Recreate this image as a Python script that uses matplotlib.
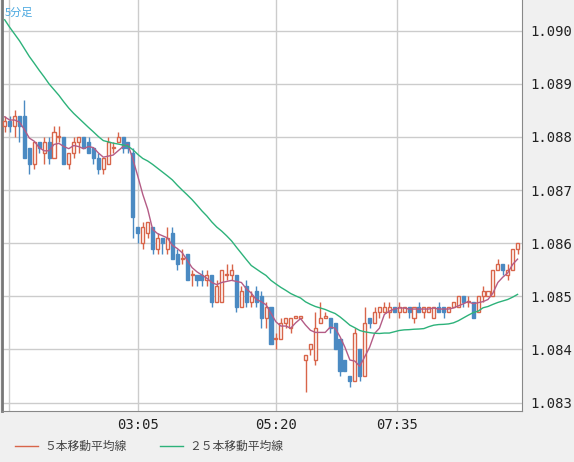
import numpy as np
import pandas as pd
import matplotlib
matplotlib.use('Agg')
from matplotlib import pyplot as plt

# 5-minute candles: open, high, low, close
opens = [1.0882,1.0883,1.0882,1.0884,1.0884,1.0878,1.0875,1.0879,1.0877,1.0879,
         1.0876,1.0880,1.0880,1.0875,1.0877,1.0879,1.0880,1.0879,1.0878,1.0876,
         1.0874,1.0875,1.0878,1.0879,1.0880,1.0879,1.0877,1.0863,1.0860,1.0862,
         1.0863,1.0859,1.0861,1.0859,1.0862,1.0858,1.0857,1.0858,1.0854,1.0854,
         1.0854,1.0853,1.0854,1.0849,1.0849,1.0854,1.0854,1.0854,1.0848,1.0852,
         1.0849,1.0851,1.0850,1.0846,1.0848,1.0842,1.0842,1.0845,1.0844,1.0846,
         1.0846,1.0838,1.0840,1.0838,1.0845,1.0846,1.0846,1.0845,1.0842,1.0838,
         1.0835,1.0834,1.0840,1.0835,1.0846,1.0845,1.0847,1.0847,1.0847,1.0848,
         1.0847,1.0847,1.0848,1.0846,1.0848,1.0847,1.0847,1.0846,1.0848,1.0848,
         1.0847,1.0848,1.0848,1.0850,1.0849,1.0849,1.0847,1.0850,1.0850,1.0850,
         1.0855,1.0856,1.0854,1.0855,1.0859]
highs = [1.0884,1.0884,1.0885,1.0884,1.0887,1.0878,1.0879,1.0879,1.0880,1.0880,
         1.0882,1.0882,1.0880,1.0877,1.0880,1.0880,1.0880,1.0880,1.0878,1.0877,
         1.0876,1.0880,1.0879,1.0881,1.0880,1.0879,1.0878,1.0863,1.0864,1.0864,
         1.0863,1.0862,1.0861,1.0863,1.0863,1.0859,1.0859,1.0858,1.0855,1.0854,
         1.0855,1.0855,1.0854,1.0853,1.0855,1.0856,1.0856,1.0854,1.0852,1.0853,
         1.0851,1.0852,1.0851,1.0849,1.0848,1.0843,1.0846,1.0846,1.0846,1.0846,
         1.0846,1.0839,1.0841,1.0847,1.0849,1.0847,1.0846,1.0845,1.0842,1.0838,
         1.0835,1.0844,1.0840,1.0848,1.0846,1.0848,1.0848,1.0849,1.0849,1.0848,
         1.0849,1.0848,1.0848,1.0848,1.0849,1.0848,1.0848,1.0848,1.0849,1.0848,
         1.0848,1.0849,1.0850,1.0850,1.0850,1.0849,1.0850,1.0852,1.0851,1.0855,
         1.0857,1.0856,1.0856,1.0859,1.0860]
lows = [1.0881,1.0881,1.0880,1.0879,1.0876,1.0873,1.0874,1.0877,1.0875,1.0875,
        1.0876,1.0879,1.0875,1.0874,1.0876,1.0877,1.0878,1.0877,1.0875,1.0873,
        1.0873,1.0875,1.0877,1.0879,1.0877,1.0877,1.0861,1.0860,1.0859,1.0861,
        1.0858,1.0858,1.0858,1.0858,1.0857,1.0855,1.0856,1.0853,1.0852,1.0852,
        1.0852,1.0852,1.0848,1.0849,1.0849,1.0853,1.0853,1.0847,1.0848,1.0848,
        1.0848,1.0848,1.0844,1.0844,1.0841,1.0840,1.0842,1.0844,1.0843,1.0846,
        1.0846,1.0832,1.0839,1.0837,1.0845,1.0846,1.0843,1.0840,1.0835,1.0836,
        1.0833,1.0834,1.0834,1.0835,1.0844,1.0845,1.0846,1.0847,1.0846,1.0847,
        1.0846,1.0847,1.0846,1.0845,1.0847,1.0846,1.0847,1.0846,1.0847,1.0846,
        1.0847,1.0848,1.0848,1.0848,1.0848,1.0846,1.0847,1.0849,1.0850,1.0850,
        1.0855,1.0854,1.0853,1.0855,1.0858]
closes = [1.0883,1.0882,1.0884,1.0882,1.0876,1.0875,1.0879,1.0878,1.0879,1.0876,
          1.0881,1.0880,1.0875,1.0877,1.0879,1.0880,1.0878,1.0877,1.0876,1.0874,
          1.0876,1.0879,1.0878,1.0880,1.0878,1.0878,1.0865,1.0862,1.0863,1.0864,
          1.0859,1.0861,1.0860,1.0861,1.0857,1.0856,1.0857,1.0853,1.0854,1.0853,
          1.0853,1.0854,1.0849,1.0852,1.0855,1.0854,1.0855,1.0848,1.0851,1.0849,
          1.0850,1.0849,1.0846,1.0848,1.0841,1.0842,1.0845,1.0846,1.0846,1.0846,
          1.0846,1.0839,1.0841,1.0844,1.0846,1.0846,1.0844,1.0840,1.0836,1.0836,
          1.0834,1.0843,1.0835,1.0845,1.0845,1.0847,1.0848,1.0848,1.0848,1.0847,
          1.0848,1.0848,1.0847,1.0848,1.0847,1.0848,1.0848,1.0848,1.0847,1.0847,
          1.0848,1.0849,1.0850,1.0849,1.0849,1.0846,1.0850,1.0851,1.0851,1.0855,
          1.0856,1.0855,1.0855,1.0859,1.0860]
# closes before the visible window (needed for the moving averages)
prior_closes = [1.0917,1.0916,1.0914,1.0913,1.0912,1.0911,1.0911,1.0910,1.0909,1.0908,
                1.0907,1.0906,1.0906,1.0904,1.0902,1.0900,1.0899,1.0897,1.0896,1.0895,
                1.0885,1.0884,1.0884,1.0883]
tick_pos = [27, 55, 79.5]
tick_labels = ['03:05', '05:20', '07:35']

RED = '#d8654a'
BLUE = '#4b8ac2'
MA5_C = '#b45c86'
MA25_C = '#2db27a'
JP = ['Noto Sans CJK JP', 'DejaVu Sans']

allc = pd.Series(prior_closes + closes)
ma5 = allc.rolling(5).mean().values[len(prior_closes):]
ma25 = allc.rolling(25).mean().values[len(prior_closes):]

fig = plt.figure(figsize=(5.74, 4.62), dpi=100, facecolor='#f0f0f0')
ax = fig.add_axes([0.003, 1 - 411/462, 522/574 - 0.003, 411/462])
ax.set_facecolor('white')

x = np.arange(len(closes))
for i in x:
    o, h, l, c = opens[i], highs[i], lows[i], closes[i]
    up = c >= o
    col = RED if up else BLUE
    bot, top = min(o, c), max(o, c)
    ax.vlines(i, l, bot, color=col, lw=1, zorder=2)
    ax.vlines(i, top, h, color=col, lw=1, zorder=2)
    hgt = max(top - bot, 0.00002)
    ax.bar(i, hgt, bottom=bot, width=0.62,
           facecolor='white' if up else BLUE, edgecolor=col, lw=1, zorder=3)

ax.plot(x, ma5, color=MA5_C, lw=1, zorder=4)
ax.plot(x, ma25, color=MA25_C, lw=1, zorder=4)

ax.set_xlim(-0.6, 104.9)
ax.set_ylim(1.08284, 1.09058)
ax.set_xticks(tick_pos)
ax.set_xticklabels(tick_labels, family='DejaVu Sans Mono', fontsize=10, color='#222')
ax.set_xticks([0.8], minor=True)
yt = [1.083, 1.084, 1.085, 1.086, 1.087, 1.088, 1.089, 1.090]
ax.set_yticks(yt)
ax.set_yticklabels(['%.3f' % v for v in yt], family='DejaVu Sans Mono', fontsize=10, color='#222')
ax.yaxis.tick_right()
ax.tick_params(which='both', length=0, pad=6)
ax.tick_params(axis='x', pad=5)
ax.grid(True, which='both', color='#cccccc', lw=1, zorder=0)
ax.set_axisbelow(True)
for s in ax.spines.values():
    s.set_color('#888888')
ax.spines['left'].set_color('#777777')
ax.spines['left'].set_linewidth(2)
ax.spines['top'].set_visible(False)

fig.text(5/574, 1 - 13/462, '5分足', fontsize=8, color='#4aa8e0', va='center', family=JP)

ly = 1 - 446/462
fig.add_artist(plt.Line2D([15/574, 38/574], [ly, ly], color=RED, lw=1))
fig.text(44/574, ly, '５本移動平均線', fontsize=8.5, color='#444', va='center', family=JP)
fig.add_artist(plt.Line2D([160/574, 183/574], [ly, ly], color=MA25_C, lw=1))
fig.text(189/574, ly, '２５本移動平均線', fontsize=8.5, color='#444', va='center', family=JP)

fig.savefig('out.png', dpi=100, facecolor=fig.get_facecolor())
